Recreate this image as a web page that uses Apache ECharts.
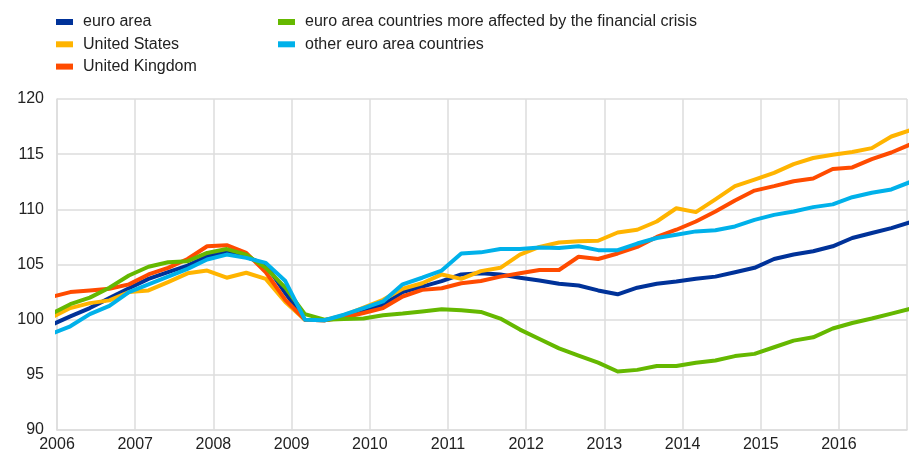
<!DOCTYPE html>
<html>
<head>
<meta charset="utf-8">
<script src="https://cdn.jsdelivr.net/npm/echarts@6/dist/echarts.min.js"></script>
<style>
  html, body { margin: 0; padding: 0; background: #fff; overflow: hidden; }
  #chart { width: 910px; height: 455px; }
</style>
</head>
<body>
<div id="chart"></div>
<script>
// quarterly observations, 2005Q4 .. 2016Q4
var quarters = [
  "2005Q4",
  "2006Q1", "2006Q2", "2006Q3", "2006Q4",
  "2007Q1", "2007Q2", "2007Q3", "2007Q4",
  "2008Q1", "2008Q2", "2008Q3", "2008Q4",
  "2009Q1", "2009Q2", "2009Q3", "2009Q4",
  "2010Q1", "2010Q2", "2010Q3", "2010Q4",
  "2011Q1", "2011Q2", "2011Q3", "2011Q4",
  "2012Q1", "2012Q2", "2012Q3", "2012Q4",
  "2013Q1", "2013Q2", "2013Q3", "2013Q4",
  "2014Q1", "2014Q2", "2014Q3", "2014Q4",
  "2015Q1", "2015Q2", "2015Q3", "2015Q4",
  "2016Q1", "2016Q2", "2016Q3", "2016Q4"
];

var euroArea = [
  99.5,
  100.3, 101.05, 101.95, 102.85,
  103.7, 104.3, 104.9, 105.75,
  106.2, 105.7, 105.0, 102.4,
  100.0, 99.95, 100.3, 100.8,
  101.35, 102.5, 103.0, 103.5,
  104.1, 104.2, 104.1, 103.8,
  103.55, 103.25, 103.1, 102.65,
  102.3, 102.9, 103.25, 103.45,
  103.7, 103.9, 104.3, 104.7,
  105.5, 105.9, 106.2, 106.65,
  107.4, 107.85, 108.3, 108.85
];

var unitedStates = [
  100.15,
  101.05, 101.5, 101.75, 102.5,
  102.65, 103.4, 104.2, 104.45,
  103.8, 104.25, 103.7, 101.6,
  100.0, 99.95, 100.4, 101.1,
  101.8, 102.8, 103.3, 104.1,
  103.7, 104.4, 104.7, 105.9,
  106.6, 107.0, 107.1, 107.15,
  107.9, 108.15, 108.9, 110.1,
  109.75, 110.9, 112.1, 112.7,
  113.3, 114.1, 114.65, 114.95,
  115.2, 115.55, 116.6, 117.2
];

var unitedKingdom = [
  102.05,
  102.5, 102.65, 102.8, 103.2,
  104.1, 104.7, 105.5, 106.65,
  106.75, 106.05, 104.3, 101.8,
  100.0, 99.95, 100.2, 100.6,
  101.05, 102.1, 102.7, 102.85,
  103.3, 103.5, 103.9, 104.2,
  104.5, 104.5, 105.7, 105.5,
  106.0, 106.6, 107.5, 108.15,
  108.9, 109.8, 110.8, 111.7,
  112.1, 112.55, 112.8, 113.65,
  113.8, 114.55, 115.15, 115.9
];

var crisisCountries = [
  100.5,
  101.4, 102.0, 102.9, 104.0,
  104.8, 105.2, 105.3, 106.05,
  106.4, 105.9, 104.7, 102.9,
  100.5, 100.0, 100.05, 100.1,
  100.4, 100.55, 100.75, 100.95,
  100.85, 100.7, 100.1, 99.1,
  98.25, 97.4, 96.75, 96.1,
  95.3, 95.45, 95.8, 95.8,
  96.1, 96.3, 96.7, 96.9,
  97.5, 98.1, 98.4, 99.2,
  99.7, 100.1, 100.55, 101.0
];

var otherEuro = [
  98.7,
  99.4, 100.5, 101.25, 102.5,
  103.2, 103.9, 104.6, 105.45,
  105.9, 105.6, 105.15, 103.5,
  100.0, 99.95, 100.45, 101.05,
  101.65, 103.2, 103.8, 104.45,
  106.0, 106.1, 106.4, 106.4,
  106.55, 106.5, 106.65, 106.3,
  106.3, 106.9, 107.4, 107.7,
  108.0, 108.1, 108.45, 109.05,
  109.5, 109.8, 110.2, 110.45,
  111.1, 111.5, 111.8, 112.5
];

var yTicks = [90, 95, 100, 105, 110, 115, 120];

var FONT = 'Arial, "Liberation Sans", sans-serif';
var GRID_COLOR = "#dddddd";

// place each quarter on a continuous year scale (observation dated early in the quarter's last month)
function quarterPos(q) {
  var year = parseInt(q.slice(0, 4), 10);
  var n = parseInt(q.slice(5), 10);
  return year + 0.17 + 0.25 * (n - 1);
}

function pairs(values) {
  return quarters.map(function (q, i) {
    return [quarterPos(q), values[i]];
  });
}

function lineSeries(name, color, values) {
  return {
    name: name,
    type: "line",
    data: pairs(values),
    showSymbol: false,
    symbol: "none",
    clip: true,
    lineStyle: { color: color, width: 4, join: "round" },
    itemStyle: { color: color },
    emphasis: { disabled: true },
    animation: false
  };
}

var chart = echarts.init(document.getElementById("chart"));

var legendBase = {
  orient: "vertical",
  top: 14,
  padding: 0,
  itemWidth: 17,
  itemHeight: 6,
  itemGap: 6.3,
  icon: "rect",
  selectedMode: false,
  textStyle: {
    fontFamily: FONT,
    fontSize: 16,
    lineHeight: 16,
    color: "#222",
    padding: [0, 0, 0, 5]
  }
};

chart.setOption({
  backgroundColor: "#ffffff",
  animation: false,
  legend: [
    Object.assign({}, legendBase, {
      left: 56,
      data: ["euro area", "United States", "United Kingdom"]
    }),
    Object.assign({}, legendBase, {
      left: 278,
      data: ["euro area countries more affected by the financial crisis", "other euro area countries"]
    })
  ],
  // plot runs past the right edge of the picture, like the original
  grid: {
    left: 57,
    right: -4,
    top: 99,
    bottom: 25,
    containLabel: false
  },
  xAxis: {
    type: "value",
    min: 2006,
    max: 2016.87,
    interval: 1,
    axisLine: { show: true, lineStyle: { color: GRID_COLOR, width: 1.5 } },
    axisTick: { show: false },
    splitLine: { show: true, lineStyle: { color: GRID_COLOR, width: 1.5 } },
    axisLabel: {
      margin: 7,
      fontFamily: FONT,
      fontSize: 16,
      color: "#222",
      formatter: function (v) {
        return Math.abs(v - Math.round(v)) < 1e-6 ? String(Math.round(v)) : "";
      }
    }
  },
  yAxis: {
    type: "value",
    min: yTicks[0],
    max: yTicks[yTicks.length - 1],
    interval: 5,
    axisLine: { show: true, lineStyle: { color: GRID_COLOR, width: 1.5 } },
    axisTick: { show: false },
    splitLine: { show: true, lineStyle: { color: GRID_COLOR, width: 1.5 } },
    axisLabel: {
      margin: 13,
      fontFamily: FONT,
      fontSize: 16,
      color: "#222"
    }
  },
  series: [
    lineSeries("euro area", "#003299", euroArea),
    lineSeries("United States", "#ffb400", unitedStates),
    lineSeries("United Kingdom", "#ff4b00", unitedKingdom),
    lineSeries("euro area countries more affected by the financial crisis", "#65b800", crisisCountries),
    lineSeries("other euro area countries", "#00b1ea", otherEuro)
  ]
});
</script>
</body>
</html>
